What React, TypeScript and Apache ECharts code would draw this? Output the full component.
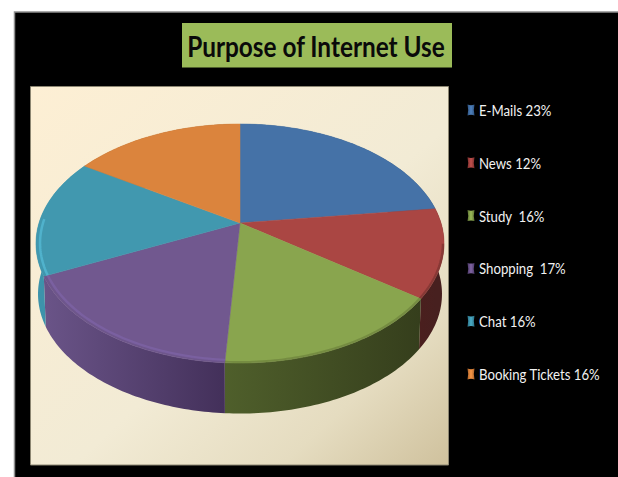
import React, { useEffect, useRef } from "react";
import * as echarts from "echarts";

// Survey shares, clockwise from twelve o'clock
const categories = ["E-Mails", "News", "Study", "Shopping", "Chat", "Booking Tickets"];
const shares = [23, 12, 16, 17, 16, 16];
const legendLabels = ["E-Mails 23%", "News 12%", "Study  16%", "Shopping  17%", "Chat 16%", "Booking Tickets 16%"];
const chartTitle = "Purpose of Internet Use";

const topColors = ["#4572a7", "#aa4643", "#89a54e", "#71588f", "#4198af", "#db843d"];
const wallStart = ["#37597f", "#4a1f1e", "#4f5f2b", "#6a5488", "#3d93ab", "#a5622c"];
const wallEnd = ["#2b4566", "#47201f", "#353e1c", "#43305a", "#308ca2", "#8c5325"];
const bevelColors = ["", "", "", "#7a60a0", "#50b2cc", ""];
const markDark = ["#2f5583", "#7f2f2d", "#5f7434", "#4d3a69", "#2b7288", "#b0652a"];
const markLight = ["#4f81bd", "#c0504d", "#9bbb59", "#8064a2", "#4bacc6", "#f79646"];

// Perspective disc: the apex sits above the middle of the ellipse
const APEX_X = 240;
const APEX_Y = 223;
const RADIUS_X = 201;
const RADIUS_Y = 116;
const TILT = 0.1716;
const DEPTH = 50.5;

const rimPoint = (deg: number, inset = 1): number[] => {
  const a = (deg * Math.PI) / 180;
  const front = -Math.cos(a);
  const s = inset / (1 - TILT * front);
  return [APEX_X + RADIUS_X * Math.sin(a) * s, APEX_Y + RADIUS_Y * front * s];
};
const floorPoint = (p: number[]): number[] => [APEX_X + (p[0] - APEX_X) * 0.99, p[1] + DEPTH];

const arcPoints = (from: number, to: number, inset = 1): number[][] => {
  const pts: number[][] = [];
  const steps = Math.max(2, Math.ceil(Math.abs(to - from)));
  for (let i = 0; i <= steps; i++) pts.push(rimPoint(from + ((to - from) * i) / steps, inset));
  return pts;
};

const total = shares.reduce((sum, v) => sum + v, 0);
const startDegrees = shares.map((_, i) => (shares.slice(0, i).reduce((sum, v) => sum + v, 0) / total) * 360);

echarts.graphic.registerShape(
  "legendMark",
  echarts.graphic.extendPath("M0 0 Q3.5 1.4 7 0 Q5.6 5.5 7 11 Q3.5 9.6 0 11 Q1.4 5.5 0 0 Z", {})
);

const sliceSeries = categories.map((name, idx) => ({
  type: "custom" as const,
  name,
  coordinateSystem: "none",
  silent: true,
  z: 2,
  data: [[shares[idx]]],
  renderItem: (_params: unknown, api: { value: (d: number) => number }) => {
    const from = startDegrees[idx];
    const to = from + (api.value(0) / total) * 360;
    const rim = arcPoints(from, to);
    const children: unknown[] = [
      {
        type: "polygon",
        z2: 1,
        shape: { points: [...rim, ...rim.map(floorPoint).reverse()] },
        style: {
          fill: new echarts.graphic.LinearGradient(
            Math.min(rim[0][0], rim[rim.length - 1][0]), 0,
            Math.max(rim[0][0], rim[rim.length - 1][0]), 0,
            [
              { offset: 0, color: wallStart[idx] },
              { offset: 1, color: wallEnd[idx] },
            ],
            true
          ),
        },
      },
      {
        type: "polygon",
        z2: 10,
        shape: { points: [[APEX_X, APEX_Y], ...rim] },
        style: { fill: topColors[idx], stroke: topColors[idx], lineWidth: 0.5 },
      },
    ];
    // Rounded edge along the part of the rim that faces the viewer
    const edgeFrom = Math.max(from, 100);
    const edgeTo = Math.min(to, 272);
    if (edgeTo > edgeFrom) {
      if (bevelColors[idx]) {
        children.push({
          type: "polyline",
          z2: 11,
          shape: { points: arcPoints(edgeFrom, edgeTo, 0.98) },
          style: { stroke: bevelColors[idx], lineWidth: 2.5, fill: "none" },
        });
      }
      children.push({
        type: "polyline",
        z2: 12,
        shape: { points: arcPoints(edgeFrom, Math.min(edgeTo, 248), 0.995) },
        style: { stroke: wallStart[idx], opacity: 0.35, lineWidth: 2.5, fill: "none" },
      });
    }
    return { type: "group", children };
  },
}));

const legendGraphics = categories.flatMap((_, i) => {
  const rowY = 110 + i * 52.8;
  return [
    {
      type: "legendMark",
      x: 467.5,
      y: rowY - 5.5,
      z: 5,
      style: {
        fill: new echarts.graphic.LinearGradient(0, 0, 1, 0, [
          { offset: 0, color: markDark[i] },
          { offset: 0.5, color: markLight[i] },
          { offset: 1, color: markDark[i] },
        ]),
      },
    },
    {
      type: "text",
      x: 479,
      y: rowY,
      scaleX: 0.825,
      z: 5,
      style: {
        text: legendLabels[i],
        fill: "#f2f2f2",
        font: "16px Lato",
        align: "left",
        verticalAlign: "middle",
      },
    },
  ];
});

export default function App() {
  const ref = useRef<HTMLDivElement>(null);

  useEffect(() => {
    const chart = echarts.init(ref.current!, null, { renderer: "svg" });
    chart.setOption({
      animation: false,
      backgroundColor: "#ffffff",
      graphic: [
        { type: "rect", z: -3, shape: { x: 14.5, y: 12, width: 620, height: 480 }, style: { fill: "#000000", stroke: "#8f8f8f", lineWidth: 1.5 } },
        {
          type: "rect",
          z: -2,
          shape: { x: 30.5, y: 86.5, width: 418, height: 378.5 },
          style: {
            stroke: "#8c8672",
            lineWidth: 1,
            fill: new echarts.graphic.LinearGradient(0, 0, 1, 1, [
              { offset: 0, color: "#fdefd4" },
              { offset: 0.55, color: "#f2ebd5" },
              { offset: 0.8, color: "#e5dcc0" },
              { offset: 1, color: "#cfc19d" },
            ]),
          },
        },
        { type: "rect", z: -2, shape: { x: 182, y: 23, width: 270, height: 44.5 }, style: { fill: "#9bbb59" } },
        {
          type: "text",
          x: 316,
          y: 46,
          scaleX: 0.87,
          z: 5,
          style: { text: chartTitle, fill: "#0a0a0a", font: "bold 28px Lato", align: "center", verticalAlign: "middle" },
        },
        ...legendGraphics,
      ],
      series: sliceSeries,
    });
    return () => chart.dispose();
  }, []);

  return <div ref={ref} style={{ position: "fixed", left: 0, top: 0, width: 618, height: 477 }} />;
}
